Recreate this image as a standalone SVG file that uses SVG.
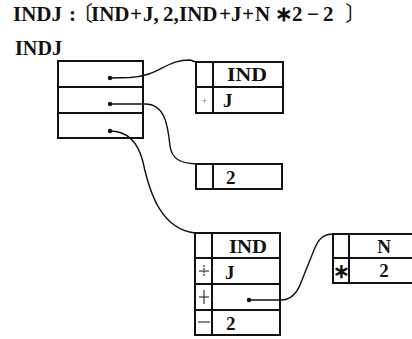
<svg xmlns="http://www.w3.org/2000/svg" width="412" height="339" viewBox="0 0 412 339">
<style>
.t{font-family:"Liberation Serif","Times New Roman",serif;font-weight:bold;fill:#111}
.k{font-family:"Noto Sans CJK JP","Noto Sans CJK SC",sans-serif;font-weight:normal}
.b{fill:none;stroke:#111;stroke-width:2}
.l{fill:none;stroke:#111;stroke-width:1}
.c{fill:none;stroke:#111;stroke-width:1.4}
.s{font-family:"Liberation Sans",Arial,sans-serif;fill:#111}
</style>
<rect width="412" height="339" fill="#fff"/>
<text class="t" y="21" font-size="21"><tspan x="13">INDJ</tspan><tspan x="69">:</tspan><tspan x="72" class="k">〔</tspan><tspan x="91">IND</tspan><tspan x="130">+</tspan><tspan x="143">J,</tspan><tspan x="163">2,</tspan><tspan x="179">IND</tspan><tspan x="219">+</tspan><tspan x="231">J</tspan><tspan x="242">+</tspan><tspan x="255">N</tspan><tspan x="275">∗</tspan><tspan x="292">2</tspan><tspan x="307">−</tspan><tspan x="323">2</tspan><tspan x="345" class="k">〕</tspan></text>
<text class="t" x="15" y="55" font-size="21" textLength="47" lengthAdjust="spacingAndGlyphs">INDJ</text>

<g id="indj">
<rect class="b" x="58" y="61" width="85" height="77"/>
<line class="b" x1="58" y1="87" x2="143" y2="87"/>
<line class="b" x1="58" y1="113" x2="143" y2="113"/>
<circle cx="110" cy="78" r="2.2" fill="#111"/>
<circle cx="110" cy="104" r="2.2" fill="#111"/>
<circle cx="110" cy="131" r="2.2" fill="#111"/>
</g>

<g id="node1">
<rect class="b" x="196" y="62" width="87" height="51"/>
<line class="b" x1="196" y1="87" x2="283" y2="87"/>
<line class="b" x1="213" y1="62" x2="213" y2="113"/>
<text class="t" x="247" y="81" font-size="19" text-anchor="middle" textLength="40" lengthAdjust="spacingAndGlyphs">IND</text>
<text class="t" x="223" y="107" font-size="19">J</text>
<text class="s" x="204.5" y="104" font-size="9" text-anchor="middle" fill-opacity="0.6">+</text>
</g>

<g id="node2">
<rect class="b" x="196" y="164" width="86" height="25"/>
<line class="b" x1="213" y1="164" x2="213" y2="189"/>
<text class="t" x="226" y="184" font-size="19">2</text>
</g>

<g id="node3">
<rect class="b" x="195" y="233" width="85" height="102"/>
<line class="b" x1="195" y1="258" x2="280" y2="258"/>
<line class="b" x1="195" y1="284" x2="280" y2="284"/>
<line class="b" x1="195" y1="310" x2="280" y2="310"/>
<line class="b" x1="212" y1="233" x2="212" y2="335"/>
<text class="t" x="248" y="253" font-size="19" text-anchor="middle" textLength="38" lengthAdjust="spacingAndGlyphs">IND</text>
<text class="t" x="225" y="279" font-size="19">J</text>
<text class="t" x="226" y="330" font-size="19">2</text>
<line class="l" x1="199" y1="271" x2="209" y2="271"/>
<line class="l" x1="204" y1="265" x2="204" y2="277" stroke-dasharray="2 1"/>
<line class="l" x1="199" y1="297" x2="209" y2="297"/>
<line class="l" x1="204" y1="290" x2="204" y2="304"/>
<line class="l" x1="198" y1="322" x2="210" y2="322" stroke-width="1.4"/>
<circle cx="249" cy="300" r="2.2" fill="#111"/>
</g>

<g id="node4">
<path class="b" d="M420,234 H333 V283 H420"/>
<line class="b" x1="333" y1="258" x2="420" y2="258"/>
<line class="b" x1="349" y1="234" x2="349" y2="283"/>
<text class="t" x="384" y="253" font-size="19" text-anchor="middle">N</text>
<text class="t" x="384" y="277" font-size="19" text-anchor="middle">2</text>
<text class="t" x="341.5" y="278" font-size="20" text-anchor="middle">∗</text>
</g>

<g id="connectors">
<path class="c" d="M110,78 L130,77.5 C160,76 165,60 190,60 L196,62"/>
<path class="c" d="M110,104 L145,104 C166,104 168,128 170,146 C172,159 180,163 196,164"/>
<path class="c" d="M110,131 C128,131 138,142 143,162 C150,195 162,229 195,233"/>
<path class="c" d="M249,300 L281,300 C292,300 298,292 302,280 L314,250 C318,240 322,234 334,234"/>
</g>
</svg>
